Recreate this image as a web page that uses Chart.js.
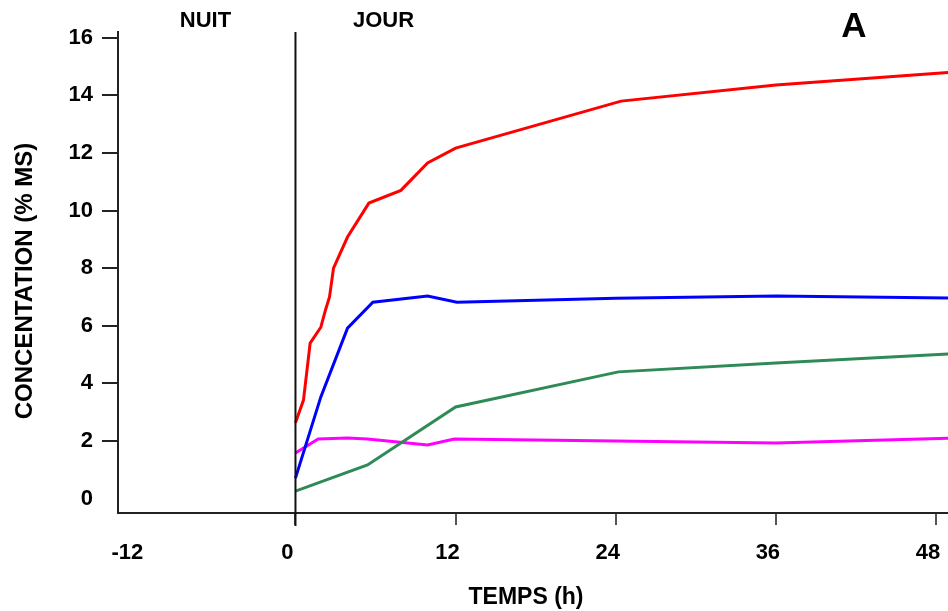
<!DOCTYPE html>
<html>
<head>
<meta charset="utf-8">
<script src="https://cdn.jsdelivr.net/npm/chart.js@4/dist/chart.umd.min.js"></script>
<style>
  body { margin: 0; background: #fff; }
  #wrap { width: 948px; height: 611px; }
</style>
</head>
<body>
<div id="wrap"><canvas id="chartA" width="948" height="611"></canvas></div>
<script>
// time in hours, concentration in % MS
var redHours = [0, 0.6, 1.1, 1.9, 2.25, 2.55, 2.85, 3.9, 5.5, 7.9, 9.9, 12, 24.4, 36, 49];
var redValues = [2.63, 3.42, 5.4, 5.95, 6.55, 7.0, 8.0, 9.08, 10.26, 10.7, 11.65, 12.17, 13.8, 14.36, 14.8];

var blueHours = [0, 1.9, 3.9, 5.8, 9.9, 12.1, 24, 36, 49];
var blueValues = [0.71, 3.53, 5.92, 6.82, 7.03, 6.82, 6.96, 7.03, 6.96];

var greenHours = [0, 5.4, 12, 24.2, 36, 49];
var greenValues = [0.26, 1.17, 3.18, 4.4, 4.71, 5.02];

var pinkHours = [0, 1.7, 3.9, 5.4, 9.9, 11.9, 24, 36, 49];
var pinkValues = [1.58, 2.07, 2.1, 2.07, 1.86, 2.07, 2.0, 1.93, 2.1];

var xTicks = [-12, 0, 12, 24, 36, 48];
var yTicks = [0, 2, 4, 6, 8, 10, 12, 14, 16];

var headerLabels = ['NUIT', 'JOUR'];
var headerHours = [-6.75, 6.6];

function toPoints(hours, values) {
  return hours.map(function (h, i) { return { x: h, y: values[i] }; });
}

function serie(hours, values, color) {
  return {
    data: toPoints(hours, values),
    borderColor: color,
    borderWidth: 3,
    pointRadius: 0,
    tension: 0,
    fill: false
  };
}

var FONT = '"Liberation Sans", Arial, sans-serif';

// vertical night/day line, top labels and axis titles
var extras = {
  id: 'extras',
  afterDraw: function (chart) {
    var ctx = chart.ctx;
    var sx = chart.scales.x;
    var area = chart.chartArea;
    var x0 = sx.getPixelForValue(0);
    ctx.save();
    ctx.strokeStyle = '#111';
    ctx.lineWidth = 2;
    ctx.beginPath();
    ctx.moveTo(x0, area.top);
    ctx.lineTo(x0, area.bottom + 13);
    ctx.stroke();

    ctx.fillStyle = '#000';
    ctx.textAlign = 'center';
    ctx.textBaseline = 'middle';
    ctx.font = 'bold 22px ' + FONT;
    for (var i = 0; i < headerLabels.length; i++) {
      ctx.fillText(headerLabels[i], sx.getPixelForValue(headerHours[i]), 21);
    }
    ctx.font = 'bold 35px ' + FONT;
    ctx.fillText('A', 854, 27);

    ctx.font = 'bold 23px ' + FONT;
    ctx.fillText('TEMPS (h)', 526, 598);

    ctx.translate(25, 281);
    ctx.rotate(-Math.PI / 2);
    ctx.font = 'bold 24px ' + FONT;
    ctx.fillText('CONCENTATION (% MS)', 0, 0);
    ctx.restore();
  }
};

var ctxA = document.getElementById('chartA');
var graficoA = new Chart(ctxA, {
  type: 'line',
  data: {
    datasets: [
      serie(redHours, redValues, '#ff0000'),
      serie(blueHours, blueValues, '#0000ff'),
      serie(greenHours, greenValues, '#2e8b57'),
      serie(pinkHours, pinkValues, '#ff00ff')
    ]
  },
  options: {
    responsive: false,
    animation: false,
    layout: { padding: { top: 32, right: 0, left: 0, bottom: 0 } },
    plugins: { legend: { display: false }, tooltip: { enabled: false } },
    scales: {
      x: {
        type: 'linear',
        min: -13.3,
        max: 48.9,
        afterBuildTicks: function (scale) {
          scale.ticks = xTicks.map(function (v) { return { value: v }; });
        },
        afterFit: function (scale) {
          scale.height = 98;
          scale.paddingLeft = 0;
          scale.paddingRight = 0;
        },
        border: { color: '#222', width: 2 },
        grid: {
          drawOnChartArea: false,
          tickLength: 12,
          lineWidth: 2,
          tickColor: function (c) { return c.tick && c.tick.value === -12 ? 'rgba(0,0,0,0)' : '#555'; }
        },
        ticks: {
          color: '#000',
          padding: 15,
          labelOffset: -8,
          maxRotation: 0,
          autoSkip: false,
          font: { family: FONT, size: 22, weight: 'bold' }
        }
      },
      y: {
        min: -0.5,
        max: 16.2,
        afterBuildTicks: function (scale) {
          scale.ticks = yTicks.map(function (v) { return { value: v }; });
        },
        afterFit: function (scale) {
          scale.width = 118;
          scale.paddingTop = 0;
          scale.paddingBottom = 0;
        },
        border: { color: '#222', width: 2 },
        grid: {
          drawOnChartArea: false,
          tickLength: 16,
          lineWidth: 2,
          tickColor: function (c) { return c.tick && c.tick.value === 0 ? 'rgba(0,0,0,0)' : '#222'; }
        },
        ticks: {
          color: '#000',
          padding: 9,
          autoSkip: false,
          font: { family: FONT, size: 22, weight: 'bold' }
        }
      }
    }
  },
  plugins: [extras]
});
</script>
</body>
</html>
